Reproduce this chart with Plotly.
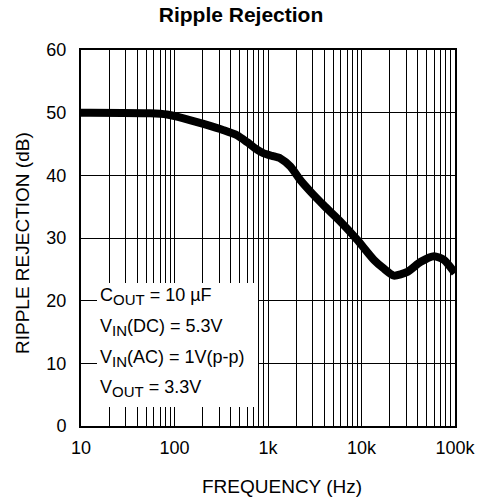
import plotly.graph_objects as go

# Data
freq_hz = [10, 12.5, 55, 83, 125, 204, 335, 466, 597, 764, 900, 1106, 1358, 1738, 2224,
           2845, 3953, 5970, 9010, 13600, 17400, 22200, 31000, 43000, 59700, 76400, 100000]
rejection_db = [50, 50, 49.9, 49.7, 49.1, 48.2, 47.2, 46.4, 45.3, 44.1, 43.5, 43.1, 42.7, 41.4, 39.2,
                37.4, 35.2, 32.6, 29.7, 26.5, 25.1, 24.0, 24.6, 26.2, 27.1, 26.5, 24.4]

x_tick_vals = [10, 100, 1000, 10000, 100000]
x_tick_text = ["10", "100", "1k", "10k", "100k"]
y_tick_vals = [0, 10, 20, 30, 40, 50, 60]

SUB = "<sub><span style='font-size:15px'>{}</span></sub>"
notes = ["C" + SUB.format("OUT") + " = 10 µF",
         "V" + SUB.format("IN") + "(DC) = 5.3V",
         "V" + SUB.format("IN") + "(AC) = 1V(p-p)",
         "V" + SUB.format("OUT") + " = 3.3V"]

# grid positions: 1..9 x each decade
grid_vals = []
grid_text = []
for d in [10, 100, 1000, 10000]:
    for m in range(1, 10):
        v = d * m
        grid_vals.append(v)
        grid_text.append(x_tick_text[x_tick_vals.index(v)] if v in x_tick_vals else "")
grid_vals.append(100000)
grid_text.append("100k")

font = "Liberation Sans, Arial, Helvetica, sans-serif"

W, H = 482, 501
PL, PR, PT, PB = 81, 455, 50, 426          # plot area in pixels
L, T, R, B = PL, PT, W - PR, H - PB
pw, ph = PR - PL, PB - PT


def px_x(sx):
    return (sx - PL) / pw


def px_y(sy):
    return (PB - sy) / ph


fig = go.Figure()
fig.add_trace(go.Scatter(x=freq_hz, y=rejection_db, mode="lines",
                         line=dict(color="black", width=8, shape="spline", smoothing=0.6),
                         showlegend=False, hoverinfo="skip"))

fig.update_layout(
    width=W, height=H,
    margin=dict(l=L, r=R, t=T, b=B),
    paper_bgcolor="white", plot_bgcolor="white",
    font=dict(family=font, color="black", size=18),
    title=dict(text="<b>Ripple Rejection</b>", x=241 / W, xanchor="center",
               y=1 - 15 / H, yanchor="middle", font=dict(size=21, family=font)),
    xaxis=dict(type="log", range=[1, 5], tickvals=grid_vals, ticktext=grid_text,
               showgrid=True, gridcolor="black", gridwidth=1.2, ticks="",
               showline=True, linecolor="black", linewidth=2, mirror=True,
               zeroline=False, tickfont=dict(size=18), automargin=False,
               ticklabelstandoff=4),
    yaxis=dict(range=[0, 60], tickvals=y_tick_vals,
               showgrid=True, gridcolor="black", gridwidth=1.2, ticks="",
               showline=True, linecolor="black", linewidth=2, mirror=True,
               zeroline=False, tickfont=dict(size=18), automargin=False,
               ticklabelstandoff=9),
)

# axis titles
fig.add_annotation(text="FREQUENCY (Hz)", xref="paper", yref="paper",
                   x=px_x(282), y=px_y(486),
                   xanchor="center", yanchor="middle", showarrow=False,
                   font=dict(size=19, family=font))
fig.add_annotation(text="RIPPLE REJECTION (dB)", xref="paper", yref="paper",
                   x=px_x(22), y=px_y(243), textangle=-90,
                   xanchor="center", yanchor="middle", showarrow=False,
                   font=dict(size=19, family=font))

# white box for the conditions text
fig.add_shape(type="rect", xref="paper", yref="paper",
              x0=px_x(97), x1=px_x(258), y0=px_y(407), y1=px_y(283),
              fillcolor="white", line=dict(width=0), layer="above")

ys_px = [296, 327, 358, 388]
for t, yp in zip(notes, ys_px):
    fig.add_annotation(text=t, xref="paper", yref="paper", x=px_x(98),
                       y=px_y(yp),
                       xanchor="left", yanchor="middle", showarrow=False,
                       font=dict(size=18, family=font))

fig.write_html("out.html", config={"displayModeBar": False},
               post_script="document.body.style.margin='0';")
